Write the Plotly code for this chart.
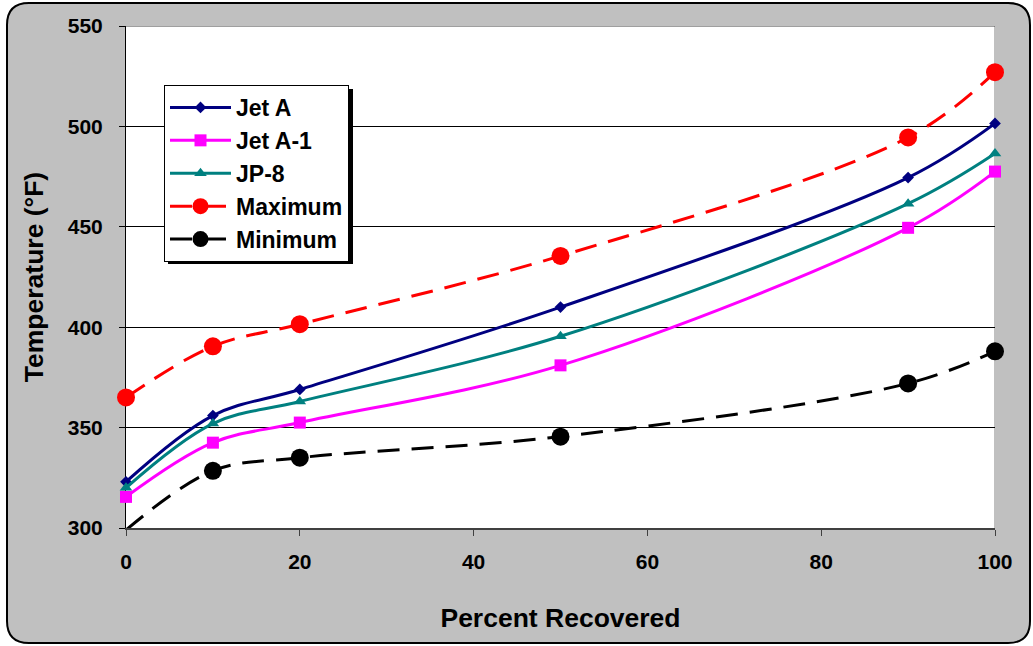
import plotly.graph_objects as go

# Distillation curves: temperature at each percent recovered
percent = [0, 10, 20, 50, 90, 100]
jet_a = [323, 356, 369, 410, 474.5, 501.5]
jet_a1 = [315.5, 342.5, 352.5, 381, 449.5, 477.5]
jp8 = [320, 352, 363, 395.5, 461.5, 486.5]
maximum = [365, 390.5, 401.5, 435.5, 494.5, 527]
minimum = [299, 328.5, 335, 345.5, 372, 388]

y_ticks = [300, 350, 400, 450, 500, 550]
x_ticks = [0, 20, 40, 60, 80, 100]

W, H = 1033, 646
L, R, T, B = 126, 38, 26, 118
PW, PH = W - L - R, H - T - B
Y_MIN, Y_MAX = 300, 550

FONT = "Liberation Sans, Arial, sans-serif"


def px_x(px):
    return (px - L) / PW


def px_y(py):
    return (H - B - py) / PH


def rounded_rect(x0, y0, x1, y1, r):
    """SVG path (paper units) for a rounded rectangle given in pixels."""
    X, Y = px_x, px_y
    pts = [
        f"M{X(x0 + r)},{Y(y0)}",
        f"L{X(x1 - r)},{Y(y0)}",
        f"Q{X(x1)},{Y(y0)} {X(x1)},{Y(y0 + r)}",
        f"L{X(x1)},{Y(y1 - r)}",
        f"Q{X(x1)},{Y(y1)} {X(x1 - r)},{Y(y1)}",
        f"L{X(x0 + r)},{Y(y1)}",
        f"Q{X(x0)},{Y(y1)} {X(x0)},{Y(y1 - r)}",
        f"L{X(x0)},{Y(y0 + r)}",
        f"Q{X(x0)},{Y(y0)} {X(x0 + r)},{Y(y0)}",
        "Z",
    ]
    return " ".join(pts)


series = [
    ("Jet A", jet_a, "#000080", "diamond", 9, "solid"),
    ("Jet A-1", jet_a1, "#FF00FF", "square", 12, "solid"),
    ("JP-8", jp8, "#008080", "triangle-up", 11, "solid"),
    ("Maximum", maximum, "#FF0000", "circle", 18, "22px,12px"),
    ("Minimum", minimum, "#000000", "circle", 18, "22px,12px"),
]

fig = go.Figure()
for name, vals, color, symbol, size, dash in series:
    # points outside the value axis are not marked
    sizes = [size if v >= Y_MIN else 0 for v in vals]
    fig.add_trace(go.Scatter(
        x=percent, y=vals, mode="lines+markers", name=name,
        line=dict(color=color, width=3, dash=dash, shape="spline", smoothing=1),
        marker=dict(symbol=symbol, size=sizes, color=color, opacity=1,
                    line=dict(width=0)),
        cliponaxis=False, showlegend=False, legendgroup=name,
    ))
    # legend entry
    fig.add_trace(go.Scatter(
        x=[None], y=[None], mode="lines+markers", name=name,
        line=dict(color=color, width=3, dash=dash),
        marker=dict(symbol=symbol, size=size, color=color, opacity=1,
                    line=dict(width=0)),
        showlegend=True, legendgroup=name,
    ))

shapes = [
    # chart background panel
    dict(type="path", xref="paper", yref="paper", layer="below",
         path=rounded_rect(7, 3, 1030, 643, 22),
         fillcolor="#C0C0C0", line=dict(color="black", width=2)),
    # white plot area
    dict(type="rect", xref="x", yref="y", layer="below",
         x0=0, x1=100, y0=Y_MIN, y1=Y_MAX,
         fillcolor="white", line=dict(width=0)),
    # plot area right and top border
    dict(type="line", xref="x", yref="y", layer="below",
         x0=100, x1=100, y0=Y_MIN, y1=Y_MAX, line=dict(color="#808080", width=1)),
    dict(type="line", xref="x", yref="y", layer="below",
         x0=0, x1=100, y0=Y_MAX, y1=Y_MAX, line=dict(color="#404040", width=1)),
    # legend shadow
    dict(type="rect", xref="paper", yref="paper", layer="above",
         x0=px_x(168), x1=px_x(353), y0=px_y(264), y1=px_y(89),
         fillcolor="black", line=dict(width=0)),
]

fig.update_layout(
    width=W, height=H,
    margin=dict(l=L, r=R, t=T, b=B),
    paper_bgcolor="white",
    plot_bgcolor="white",
    font=dict(family=FONT, color="black", weight="bold"),
    shapes=shapes,
    showlegend=True,
    legend=dict(
        x=px_x(164), y=px_y(85), xanchor="left", yanchor="top",
        bgcolor="white", bordercolor="black", borderwidth=1,
        font=dict(family=FONT, size=23, color="black", weight="bold"),
        itemwidth=61, tracegroupgap=0,
    ),
    xaxis=dict(
        range=[0, 100], tickvals=x_ticks, ticktext=[str(v) for v in x_ticks],
        showgrid=False, zeroline=False,
        showline=True, linecolor="#404040", linewidth=2,
        ticks="outside", ticklen=6, tickcolor="#404040", tickwidth=1,
        tickfont=dict(family=FONT, size=21, weight="bold"),
        ticklabelstandoff=8,
        title=dict(text="Percent Recovered", standoff=36,
                   font=dict(family=FONT, size=26.5, weight="bold")),
        layer="below traces",
    ),
    yaxis=dict(
        range=[Y_MIN, Y_MAX], tickvals=y_ticks, ticktext=[str(v) for v in y_ticks],
        showgrid=True, gridcolor="black", gridwidth=1,
        zeroline=False,
        showline=True, linecolor="black", linewidth=1,
        ticks="outside", ticklen=6, tickcolor="black", tickwidth=1,
        tickfont=dict(family=FONT, size=21, weight="bold"),
        ticklabelstandoff=12,
        title=dict(text="Temperature (°F)", standoff=16,
                   font=dict(family=FONT, size=26.5, weight="bold")),
        layer="below traces",
    ),
)

fig.write_html("out.html")
